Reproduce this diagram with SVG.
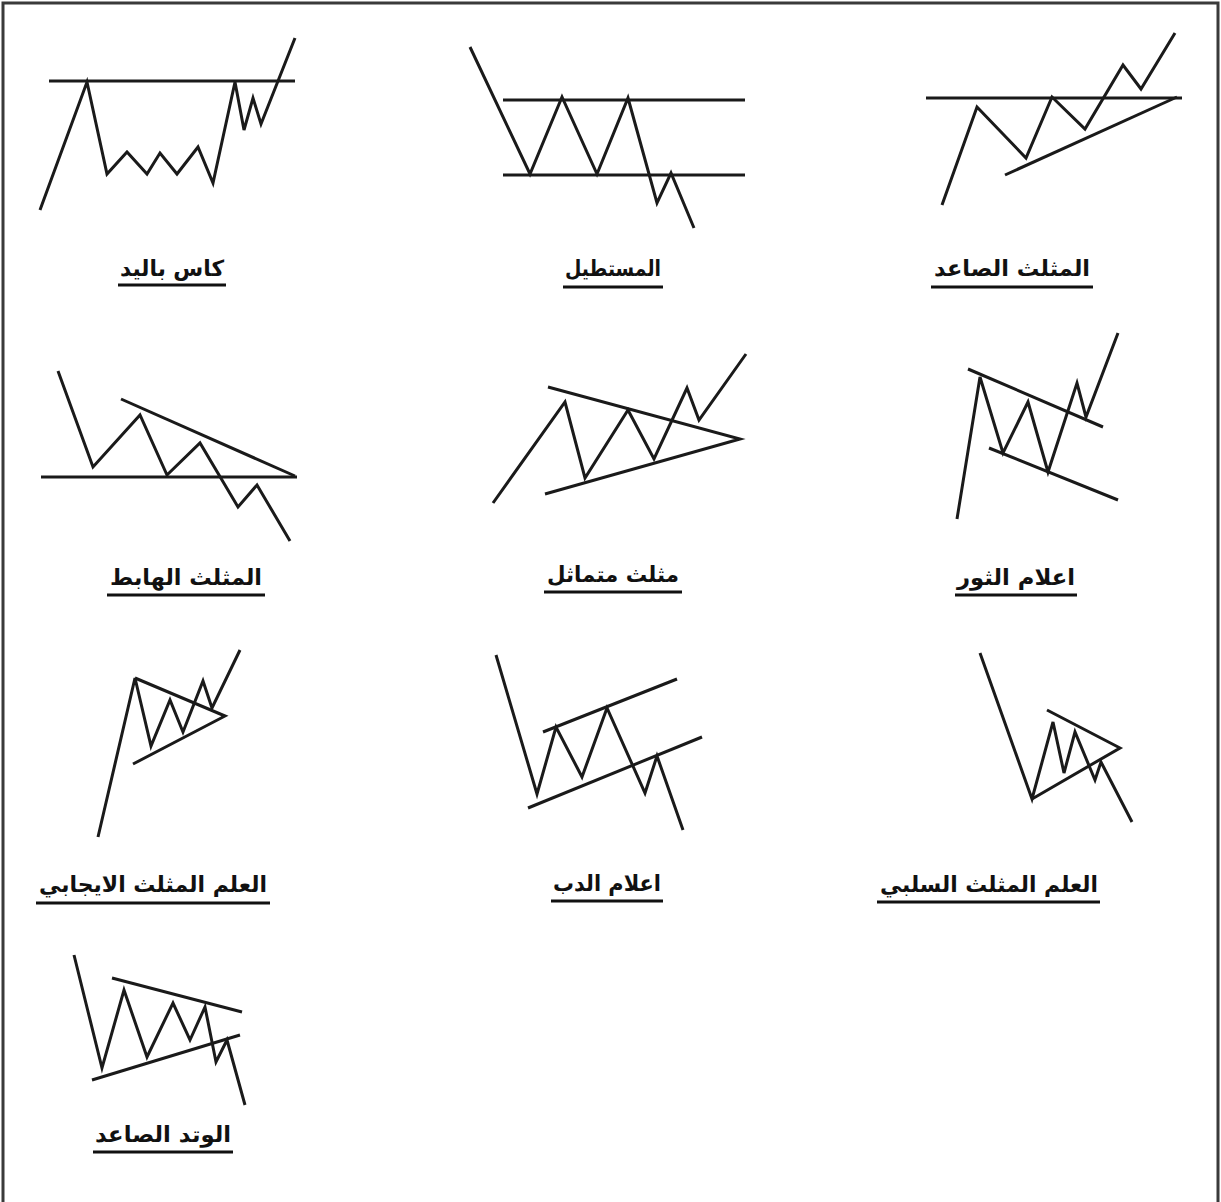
<svg xmlns="http://www.w3.org/2000/svg" width="1221" height="1202" viewBox="0 0 1221 1202">
<style>
.ln{fill:none;stroke:#1a1a1a;stroke-width:3;stroke-linejoin:miter;stroke-linecap:butt}
.lb{font-family:"DejaVu Sans","Noto Sans",sans-serif;font-weight:bold;font-size:22px;fill:#111;text-anchor:middle}
.ul{stroke:#111;stroke-width:3}
</style>
<rect x="0" y="0" width="1221" height="1202" fill="#fff"/>
<path d="M3,1202 V3 H1218 V1202" fill="none" stroke="#3a3a3a" stroke-width="3"/>
<g id="connectors">
</g>
<g id="cup-handle">
<line class="ln" x1="49" y1="81" x2="295" y2="81"/>
<polyline class="ln" points="40,210 87,82 107,174 127,152 147,174 160,153 177,174 198,147 213,183 235,82 244,130 253,98 261,124 295,38"/>
<text class="lb" x="172" y="276" direction="rtl" textLength="104" lengthAdjust="spacingAndGlyphs">كاس باليد</text>
<line class="ul" x1="118" y1="285" x2="226" y2="285"/>
</g>
<g id="rectangle">
<line class="ln" x1="503" y1="100" x2="745" y2="100"/>
<line class="ln" x1="503" y1="175" x2="745" y2="175"/>
<polyline class="ln" points="470,47 530,174 562,97 597,174 628,98 657,203 671,173 694,228"/>
<text class="lb" x="613" y="276" direction="rtl" textLength="96" lengthAdjust="spacingAndGlyphs">المستطيل</text>
<line class="ul" x1="563" y1="287" x2="663" y2="287"/>
</g>
<g id="ascending-triangle">
<line class="ln" x1="926" y1="98" x2="1182" y2="98"/>
<line class="ln" x1="1005" y1="175" x2="1177" y2="97"/>
<polyline class="ln" points="942,205 977,107 1026,158 1052,97 1085,129 1123,65 1141,89 1175,33"/>
<text class="lb" x="1012" y="276" direction="rtl" textLength="156" lengthAdjust="spacingAndGlyphs">المثلث الصاعد</text>
<line class="ul" x1="931" y1="287" x2="1093" y2="287"/>
</g>
<g id="descending-triangle">
<line class="ln" x1="41" y1="477" x2="297" y2="477"/>
<line class="ln" x1="121" y1="399" x2="295" y2="476"/>
<polyline class="ln" points="58,371 93,467 140,415 167,475 200,443 238,507 257,485 290,541"/>
<text class="lb" x="186" y="585" direction="rtl" textLength="152" lengthAdjust="spacingAndGlyphs">المثلث الهابط</text>
<line class="ul" x1="107" y1="595" x2="265" y2="595"/>
</g>
<g id="symmetric-triangle">
<polyline class="ln" points="548,387 740,439 545,494"/>
<polyline class="ln" points="493,503 565,402 585,478 628,410 654,459 687,388 699,420 746,354"/>
<text class="lb" x="613" y="582" direction="rtl" textLength="132" lengthAdjust="spacingAndGlyphs">مثلث متماثل</text>
<line class="ul" x1="544" y1="592" x2="682" y2="592"/>
</g>
<g id="bull-flag">
<line class="ln" x1="968" y1="369" x2="1103" y2="427"/>
<line class="ln" x1="989" y1="448" x2="1118" y2="500"/>
<polyline class="ln" points="957,519 980,377 1003,453 1028,402 1048,472 1077,383 1086,417 1118,333"/>
<text class="lb" x="1016" y="585" direction="rtl" textLength="118" lengthAdjust="spacingAndGlyphs">اعلام الثور</text>
<line class="ul" x1="955" y1="595" x2="1077" y2="595"/>
</g>
<g id="bullish-pennant">
<polyline class="ln" points="135,678 225,716 133,764"/>
<polyline class="ln" points="98,837 135,678 151,746 170,700 183,732 203,681 212,708 240,650"/>
<text class="lb" x="153" y="892" direction="rtl" textLength="228" lengthAdjust="spacingAndGlyphs">العلم المثلث الايجابي</text>
<line class="ul" x1="36" y1="903" x2="270" y2="903"/>
</g>
<g id="bear-flag">
<line class="ln" x1="543" y1="732" x2="677" y2="679"/>
<line class="ln" x1="528" y1="808" x2="702" y2="737"/>
<polyline class="ln" points="496,655 537,794 556,727 582,777 607,708 645,793 657,756 683,830"/>
<text class="lb" x="607" y="891" direction="rtl" textLength="108" lengthAdjust="spacingAndGlyphs">اعلام الدب</text>
<line class="ul" x1="551" y1="901" x2="663" y2="901"/>
</g>
<g id="bearish-pennant">
<polyline class="ln" points="1047,710 1120,748 1032,799"/>
<polyline class="ln" points="980,653 1032,799 1053,722 1064,773 1075,732 1095,780 1101,762 1132,822"/>
<text class="lb" x="989" y="892" direction="rtl" textLength="218" lengthAdjust="spacingAndGlyphs">العلم المثلث السلبي</text>
<line class="ul" x1="877" y1="902" x2="1100" y2="902"/>
</g>
<g id="rising-wedge">
<line class="ln" x1="112" y1="978" x2="242" y2="1012"/>
<line class="ln" x1="92" y1="1080" x2="240" y2="1035"/>
<polyline class="ln" points="74,955 102,1068 124,990 147,1057 173,1003 190,1040 205,1007 216,1062 227,1040 245,1105"/>
<text class="lb" x="163" y="1142" direction="rtl" textLength="136" lengthAdjust="spacingAndGlyphs">الوتد الصاعد</text>
<line class="ul" x1="93" y1="1152" x2="233" y2="1152"/>
</g>
</svg>
